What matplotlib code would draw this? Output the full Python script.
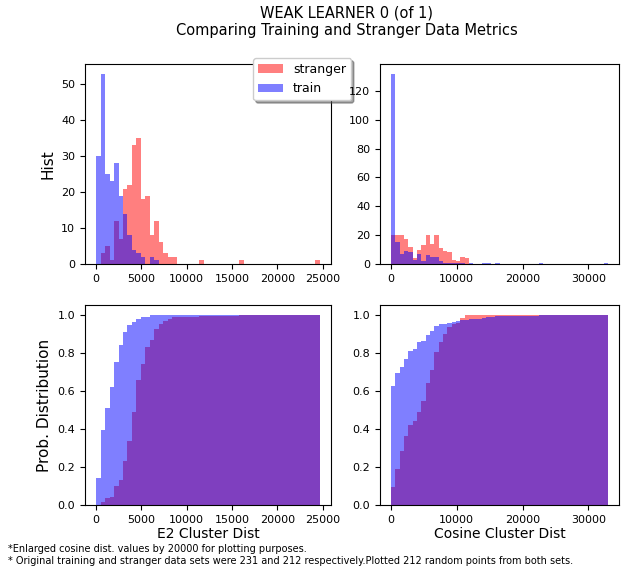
import numpy as np
import matplotlib
matplotlib.use('Agg')
import matplotlib.pyplot as plt

# histogram ranges and bin count
N_BINS = 50
E2_RANGE = (0, 24700)
COS_RANGE = (0, 33000)

# counts per bin, E2 cluster distance
e2_stranger = [0, 3, 5, 1, 12, 7, 21, 22, 33, 35,
               18, 19, 8, 12, 6, 3, 2, 2, 0, 0,
               0, 0, 0, 1, 0, 0, 0, 0, 0, 0,
               0, 0, 1, 0, 0, 0, 0, 0, 0, 0,
               0, 0, 0, 0, 0, 0, 0, 0, 0, 1]
e2_train = [30, 53, 25, 23, 28, 19, 14, 8, 4, 3,
            2, 0, 2, 1, 0, 0, 0, 0, 0, 0,
            0, 0, 0, 0, 0, 0, 0, 0, 0, 0,
            0, 0, 0, 0, 0, 0, 0, 0, 0, 0,
            0, 0, 0, 0, 0, 0, 0, 0, 0, 0]

# counts per bin, cosine cluster distance (x20000)
cos_stranger = [20, 20, 20, 17, 12, 4, 10, 13, 20, 14,
                20, 11, 9, 8, 3, 2, 5, 4, 0, 0,
                0, 0, 0, 0, 0, 0, 0, 0, 0, 0,
                0, 0, 0, 0, 0, 0, 0, 0, 0, 0,
                0, 0, 0, 0, 0, 0, 0, 0, 0, 0]
cos_train = [132, 15, 7, 9, 8, 3, 7, 2, 6, 5,
             5, 2, 1, 1, 1, 1, 1, 0, 1, 0,
             0, 1, 1, 0, 1, 0, 0, 0, 0, 0,
             0, 0, 0, 0, 1, 0, 0, 0, 0, 0,
             0, 0, 0, 0, 0, 0, 0, 0, 0, 1]

title = 'WEAK LEARNER 0 (of 1)\nComparing Training and Stranger Data Metrics'
note1 = '*Enlarged cosine dist. values by 20000 for plotting purposes.'
note2 = ('* Original training and stranger data sets were 231 and 212 '
         'respectively.Plotted 212 random points from both sets.')


def bin_edges(rng):
    edges = np.linspace(rng[0], rng[1], N_BINS + 1)
    return edges, (edges[:-1] + edges[1:]) / 2


W, H = 622, 567
fig = plt.figure(figsize=(W / 100, H / 100), dpi=100)


def box(l, t, r, b):
    return [l / W, 1 - b / H, (r - l) / W, (b - t) / H]


ax_e2 = fig.add_axes(box(85, 64, 331, 264))
ax_cos = fig.add_axes(box(380, 64, 619, 264))
ax_e2c = fig.add_axes(box(85, 305, 331, 505))
ax_cosc = fig.add_axes(box(380, 305, 619, 505))

e2_edges, e2_mid = bin_edges(E2_RANGE)
cos_edges, cos_mid = bin_edges(COS_RANGE)

for ax, edges, mid, s, t, cum in [
        (ax_e2, e2_edges, e2_mid, e2_stranger, e2_train, False),
        (ax_cos, cos_edges, cos_mid, cos_stranger, cos_train, False),
        (ax_e2c, e2_edges, e2_mid, e2_stranger, e2_train, True),
        (ax_cosc, cos_edges, cos_mid, cos_stranger, cos_train, True)]:
    ax.hist(mid, bins=edges, weights=s, color='r', alpha=0.5,
            label='stranger', cumulative=cum, density=cum)
    ax.hist(mid, bins=edges, weights=t, color='b', alpha=0.5,
            label='train', cumulative=cum, density=cum)
    ax.tick_params(labelsize=8)

ax_cos.set_xticks([0, 10000, 20000, 30000])
ax_cosc.set_xticks([0, 10000, 20000, 30000])

ax_e2.set_ylabel('Hist', fontsize=11)
ax_e2c.set_ylabel('Prob. Distribution', fontsize=11)
ax_e2c.set_xlabel('E2 Cluster Dist', fontsize=10, labelpad=2)
ax_cosc.set_xlabel('Cosine Cluster Dist', fontsize=10, labelpad=2)

ax_e2.legend(loc='upper left', bbox_to_anchor=(0.683, 1.03), shadow=True,
             fontsize=9, borderaxespad=0)

fig.suptitle(title, x=0.557, y=0.99, fontsize=10.5)
fig.text(8 / W, 1 - 549 / H, note1, fontsize=7, va='center')
fig.text(8 / W, 1 - 561 / H, note2, fontsize=7, va='center')

fig.savefig('out.png', dpi=100)
